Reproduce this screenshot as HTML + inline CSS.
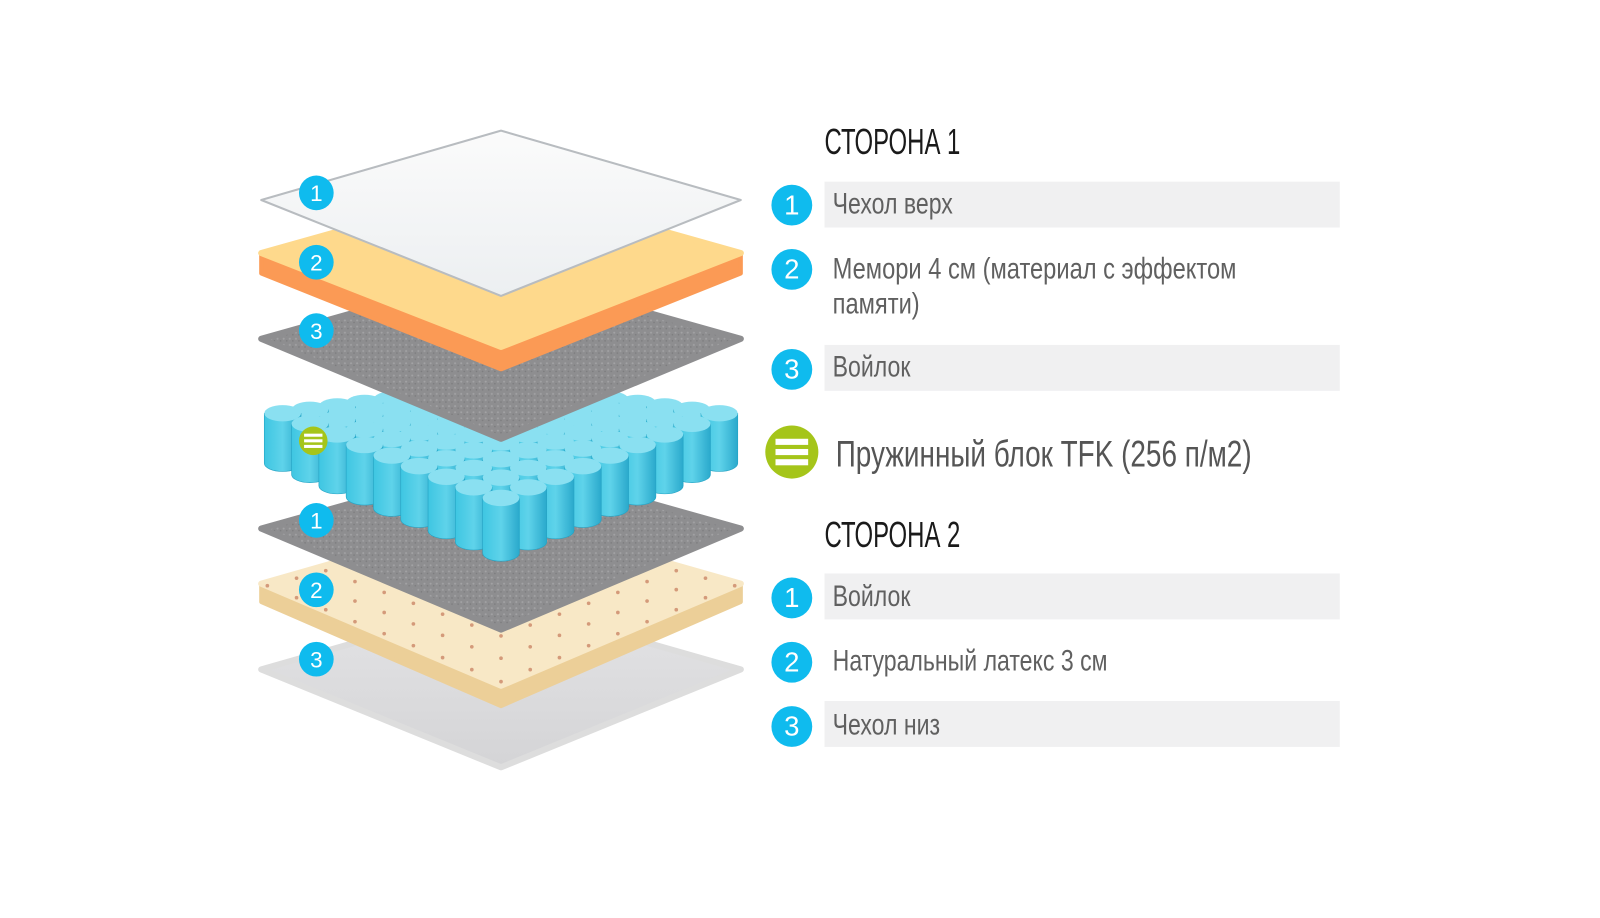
<!DOCTYPE html>
<html><head><meta charset="utf-8">
<style>
html,body{margin:0;padding:0;background:#fff;width:1600px;height:900px;overflow:hidden;font-family:"Liberation Sans",sans-serif}
#w{position:absolute;left:0;top:0;width:1600px;height:900px;transform:scale(1.0204);transform-origin:0 0}
.abs{position:absolute}
.bar{position:absolute;left:808px;width:505px;height:45px;background:#f0f0f1}
.c{position:absolute;width:40px;height:40px;border-radius:50%;background:#0fbbee;color:#fff;font-size:27px;line-height:40px;text-align:center}
.t{position:absolute;left:816px;color:#606060;font-size:29px;transform:scaleX(0.78);transform-origin:0 0;white-space:nowrap}
.h{position:absolute;left:808px;color:#1a1a1a;font-size:35px;transform:scaleX(0.67);transform-origin:0 0;white-space:nowrap}
</style></head><body><div id="w">
<svg class="abs" style="left:0;top:0" width="1600" height="900" id="s">
<defs>
<pattern id="felt" width="6" height="6" patternUnits="userSpaceOnUse"><rect width="6" height="6" fill="#8e8e90"/><circle cx="2" cy="2" r="1" fill="#a2a2a4"/><circle cx="5" cy="4" r="0.8" fill="#7c7c7e"/></pattern>
<linearGradient id="cov" x1="0" y1="0" x2="0" y2="1"><stop offset="0" stop-color="#fbfbfb"/><stop offset="1" stop-color="#eceff1"/></linearGradient>
<linearGradient id="bot" x1="0" y1="0" x2="0" y2="1"><stop offset="0" stop-color="#e4e4e6"/><stop offset="1" stop-color="#d4d4d6"/></linearGradient>
<linearGradient id="cyl" x1="0" y1="0" x2="1" y2="0"><stop offset="0" stop-color="#3ec6e2"/><stop offset="0.5" stop-color="#5fd3ea"/><stop offset="1" stop-color="#2aa9cc"/></linearGradient>
</defs>
<polygon points="256,656 491,589 726,656 491,752" fill="url(#bot)" stroke="#ddd" stroke-width="6" stroke-linejoin="round"/>
<polygon points="256,572 256,590 491,692 726,590 726,572 491,672" fill="#eccf98" stroke="#eccf98" stroke-width="4" stroke-linejoin="round"/>
<polygon points="256,572 491,505 726,572 491,672" fill="#f8e8c6" stroke="#f8e8c6" stroke-width="6" stroke-linejoin="round"/>
<g id="dots" fill="#d49a7a"></g>
<polygon points="256,518 491,452 726,518 491,617" fill="url(#felt)" stroke="#8e8e90" stroke-width="6" stroke-linejoin="round"/>
<g id="spr"></g>
<polygon points="256,332 491,266 726,332 491,430" fill="url(#felt)" stroke="#8e8e90" stroke-width="6" stroke-linejoin="round"/>
<polygon points="256,248 256,268 491,362 726,268 726,248 491,340" fill="#fb9a55" stroke="#fb9a55" stroke-width="4" stroke-linejoin="round"/>
<polygon points="256,248 491,182 726,248 491,340" fill="#fed98c" stroke="#fed98c" stroke-width="6" stroke-linejoin="round"/>
<polygon points="256,196 491,128 726,196 491,290" fill="url(#cov)" stroke="#b8bcc0" stroke-width="2" stroke-linejoin="round"/>
<g fill="#0fbbee"><circle cx="310" cy="189" r="17"/><circle cx="310" cy="257" r="17"/><circle cx="310" cy="324" r="17"/><circle cx="310" cy="510" r="17"/><circle cx="310" cy="578" r="17"/><circle cx="310" cy="646" r="17"/></g>
<g fill="#fff" font-family="Liberation Sans" font-size="22" text-anchor="middle">
<text x="310" y="197">1</text><text x="310" y="265">2</text><text x="310" y="332">3</text><text x="310" y="518">1</text><text x="310" y="586">2</text><text x="310" y="654">3</text></g>
<circle cx="307" cy="432" r="14" fill="#a5c51a"/>
<g fill="#fff"><rect x="298" y="425" width="18" height="3"/><rect x="298" y="430.5" width="18" height="3"/><rect x="298" y="436" width="18" height="3"/></g>
</svg>
<script>
(function(){
var ns="http://www.w3.org/2000/svg",g=document.getElementById('spr'),N=9;
var T=[491,378],L=[277,405],R=[705,405],B=[491,488];
var items=[];
for(var i=0;i<N;i++)for(var j=0;j<N;j++){var u=i/(N-1),v=j/(N-1);
var x=T[0]*(1-u)*(1-v)+L[0]*u*(1-v)+R[0]*(1-u)*v+B[0]*u*v;
var y=T[1]*(1-u)*(1-v)+L[1]*u*(1-v)+R[1]*(1-u)*v+B[1]*u*v;items.push([x,y,(u+v)/2]);}
items.sort(function(a,b){return a[1]-b[1]});
items.forEach(function(p){var h=44+10*p[2],rx=18,ry=8;
var b=document.createElementNS(ns,'path');
b.setAttribute('d','M'+(p[0]-rx)+','+p[1]+' v'+h+' a'+rx+','+ry+' 0 0 0 '+(2*rx)+',0 v'+(-h)+' z');
b.setAttribute('fill','url(#cyl)');b.setAttribute('stroke','#24a3c4');b.setAttribute('stroke-width','0.6');g.appendChild(b);
var e=document.createElementNS(ns,'ellipse');e.setAttribute('cx',p[0]);e.setAttribute('cy',p[1]);e.setAttribute('rx',rx);e.setAttribute('ry',ry);e.setAttribute('fill','#8ae0f1');g.appendChild(e);});
var d=document.getElementById('dots');
var T2=[491,515],L2=[262,574],R2=[720,574],B2=[491,668];
for(var i=0;i<9;i++)for(var j=0;j<9;j++){var u=i/8,v=j/8;
var x=T2[0]*(1-u)*(1-v)+L2[0]*u*(1-v)+R2[0]*(1-u)*v+B2[0]*u*v;
var y=T2[1]*(1-u)*(1-v)+L2[1]*u*(1-v)+R2[1]*(1-u)*v+B2[1]*u*v;
var c=document.createElementNS(ns,'circle');c.setAttribute('cx',x);c.setAttribute('cy',y);c.setAttribute('r',1.8);d.appendChild(c);}
})();
</script>
<div class="h" style="top:120px">СТОРОНА 1</div>
<div class="bar" style="top:178px"></div>
<div class="bar" style="top:338px"></div>
<div class="bar" style="top:562px"></div>
<div class="bar" style="top:687px"></div>
<div class="c" style="left:756px;top:181px">1</div>
<div class="c" style="left:756px;top:244px">2</div>
<div class="c" style="left:756px;top:342px">3</div>
<div class="c" style="left:756px;top:566px">1</div>
<div class="c" style="left:756px;top:629px">2</div>
<div class="c" style="left:756px;top:692px">3</div>
<div class="t" style="top:184px">Чехол верх</div>
<div class="t" style="top:247px;line-height:34px;transform:scaleX(0.8)">Мемори 4 см (материал с эффектом<br>памяти)</div>
<div class="t" style="top:344px">Войлок</div>
<div class="abs" style="left:750px;top:417px;width:52px;height:52px;border-radius:50%;background:#a5c51a"></div>
<div class="abs" style="left:760px;top:430px;width:32px;height:6px;background:#fff"></div>
<div class="abs" style="left:760px;top:440px;width:32px;height:6px;background:#fff"></div>
<div class="abs" style="left:760px;top:450px;width:32px;height:6px;background:#fff"></div>
<div class="t" style="top:424px;left:819px;font-size:36px;color:#555;transform:scaleX(0.76)">Пружинный блок TFK (256 п/м2)</div>
<div class="h" style="top:505px">СТОРОНА 2</div>
<div class="t" style="top:569px">Войлок</div>
<div class="t" style="top:632px">Натуральный латекс 3 см</div>
<div class="t" style="top:695px">Чехол низ</div>
</div></body></html>
